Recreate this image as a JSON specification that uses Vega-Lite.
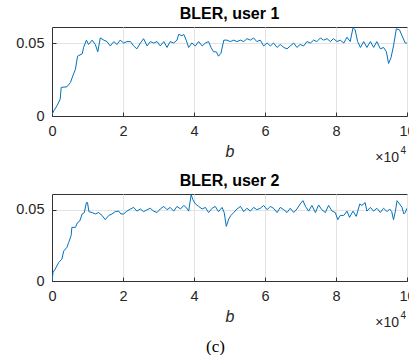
{
  "$schema": "https://vega.github.io/schema/vega-lite/v6.json",
  "background": "white",
  "padding": {"left": 15, "top": 5, "right": 0, "bottom": 0},
  "datasets": {
    "u1": [
      {"b":0,"bler":0.001},{"b":0.05,"bler":0.0035},{"b":0.14,"bler":0.007},{"b":0.23,"bler":0.0115},{"b":0.26,"bler":0.0196},{"b":0.42,"bler":0.02},{"b":0.52,"bler":0.023},{"b":0.61,"bler":0.029},{"b":0.66,"bler":0.032},{"b":0.72,"bler":0.041},{"b":0.85,"bler":0.0426},{"b":0.89,"bler":0.047},{"b":0.97,"bler":0.052},{"b":1.03,"bler":0.049},{"b":1.13,"bler":0.052},{"b":1.22,"bler":0.049},{"b":1.29,"bler":0.044},{"b":1.36,"bler":0.0535},{"b":1.46,"bler":0.052},{"b":1.55,"bler":0.051},{"b":1.64,"bler":0.048},{"b":1.74,"bler":0.051},{"b":1.83,"bler":0.049},{"b":1.92,"bler":0.052},{"b":2.02,"bler":0.05},{"b":2.11,"bler":0.051},{"b":2.21,"bler":0.051},{"b":2.3,"bler":0.048},{"b":2.39,"bler":0.046},{"b":2.49,"bler":0.05},{"b":2.58,"bler":0.053},{"b":2.68,"bler":0.048},{"b":2.77,"bler":0.051},{"b":2.86,"bler":0.05},{"b":2.96,"bler":0.051},{"b":3.05,"bler":0.048},{"b":3.15,"bler":0.051},{"b":3.24,"bler":0.047},{"b":3.33,"bler":0.051},{"b":3.43,"bler":0.05},{"b":3.52,"bler":0.052},{"b":3.57,"bler":0.056},{"b":3.66,"bler":0.055},{"b":3.71,"bler":0.056},{"b":3.78,"bler":0.052},{"b":3.85,"bler":0.047},{"b":3.94,"bler":0.05},{"b":4.04,"bler":0.048},{"b":4.13,"bler":0.051},{"b":4.23,"bler":0.048},{"b":4.32,"bler":0.05},{"b":4.41,"bler":0.051},{"b":4.48,"bler":0.047},{"b":4.55,"bler":0.044},{"b":4.63,"bler":0.044},{"b":4.69,"bler":0.041},{"b":4.76,"bler":0.043},{"b":4.84,"bler":0.052},{"b":4.93,"bler":0.052},{"b":5.02,"bler":0.051},{"b":5.12,"bler":0.052},{"b":5.21,"bler":0.051},{"b":5.31,"bler":0.052},{"b":5.4,"bler":0.051},{"b":5.49,"bler":0.053},{"b":5.59,"bler":0.052},{"b":5.68,"bler":0.0535},{"b":5.77,"bler":0.051},{"b":5.87,"bler":0.052},{"b":5.96,"bler":0.048},{"b":6.06,"bler":0.05},{"b":6.15,"bler":0.048},{"b":6.24,"bler":0.05},{"b":6.34,"bler":0.047},{"b":6.43,"bler":0.049},{"b":6.53,"bler":0.047},{"b":6.62,"bler":0.046},{"b":6.71,"bler":0.048},{"b":6.81,"bler":0.05},{"b":6.9,"bler":0.047},{"b":6.99,"bler":0.049},{"b":7.09,"bler":0.048},{"b":7.18,"bler":0.051},{"b":7.28,"bler":0.05},{"b":7.37,"bler":0.052},{"b":7.46,"bler":0.051},{"b":7.56,"bler":0.0535},{"b":7.65,"bler":0.052},{"b":7.75,"bler":0.053},{"b":7.84,"bler":0.051},{"b":7.93,"bler":0.053},{"b":8.03,"bler":0.051},{"b":8.12,"bler":0.052},{"b":8.22,"bler":0.05},{"b":8.31,"bler":0.054},{"b":8.4,"bler":0.051},{"b":8.48,"bler":0.0605},{"b":8.54,"bler":0.059},{"b":8.61,"bler":0.051},{"b":8.69,"bler":0.047},{"b":8.78,"bler":0.051},{"b":8.87,"bler":0.047},{"b":8.97,"bler":0.051},{"b":9.06,"bler":0.047},{"b":9.15,"bler":0.051},{"b":9.25,"bler":0.046},{"b":9.34,"bler":0.047},{"b":9.42,"bler":0.044},{"b":9.48,"bler":0.036},{"b":9.55,"bler":0.04},{"b":9.62,"bler":0.048},{"b":9.7,"bler":0.0598},{"b":9.79,"bler":0.059},{"b":9.86,"bler":0.055},{"b":9.95,"bler":0.05},{"b":10,"bler":0.05}
    ],
    "u2": [
      {"b":0,"bler":0.0002},{"b":0.03,"bler":0.006},{"b":0.09,"bler":0.0084},{"b":0.19,"bler":0.013},{"b":0.28,"bler":0.0154},{"b":0.33,"bler":0.021},{"b":0.42,"bler":0.0236},{"b":0.47,"bler":0.027},{"b":0.54,"bler":0.032},{"b":0.56,"bler":0.0376},{"b":0.66,"bler":0.0376},{"b":0.72,"bler":0.041},{"b":0.78,"bler":0.042},{"b":0.85,"bler":0.047},{"b":0.91,"bler":0.048},{"b":0.97,"bler":0.055},{"b":1.0,"bler":0.055},{"b":1.04,"bler":0.0486},{"b":1.13,"bler":0.048},{"b":1.22,"bler":0.047},{"b":1.31,"bler":0.048},{"b":1.41,"bler":0.046},{"b":1.5,"bler":0.043},{"b":1.6,"bler":0.046},{"b":1.69,"bler":0.047},{"b":1.78,"bler":0.0486},{"b":1.88,"bler":0.049},{"b":1.94,"bler":0.047},{"b":2.02,"bler":0.047},{"b":2.11,"bler":0.049},{"b":2.21,"bler":0.0505},{"b":2.3,"bler":0.0516},{"b":2.39,"bler":0.049},{"b":2.49,"bler":0.0505},{"b":2.58,"bler":0.0486},{"b":2.68,"bler":0.05},{"b":2.77,"bler":0.051},{"b":2.86,"bler":0.049},{"b":2.96,"bler":0.048},{"b":3.05,"bler":0.0505},{"b":3.15,"bler":0.0523},{"b":3.24,"bler":0.05},{"b":3.33,"bler":0.0516},{"b":3.43,"bler":0.049},{"b":3.52,"bler":0.0523},{"b":3.62,"bler":0.0505},{"b":3.71,"bler":0.053},{"b":3.8,"bler":0.051},{"b":3.85,"bler":0.049},{"b":3.92,"bler":0.0605},{"b":3.97,"bler":0.057},{"b":4.04,"bler":0.054},{"b":4.13,"bler":0.0523},{"b":4.23,"bler":0.0505},{"b":4.32,"bler":0.0516},{"b":4.41,"bler":0.048},{"b":4.51,"bler":0.051},{"b":4.6,"bler":0.0523},{"b":4.69,"bler":0.0486},{"b":4.79,"bler":0.0516},{"b":4.85,"bler":0.048},{"b":4.91,"bler":0.0383},{"b":4.98,"bler":0.0435},{"b":5.04,"bler":0.046},{"b":5.12,"bler":0.048},{"b":5.21,"bler":0.0505},{"b":5.31,"bler":0.0523},{"b":5.4,"bler":0.0486},{"b":5.49,"bler":0.051},{"b":5.59,"bler":0.049},{"b":5.68,"bler":0.0516},{"b":5.77,"bler":0.05},{"b":5.87,"bler":0.051},{"b":5.96,"bler":0.053},{"b":6.06,"bler":0.05},{"b":6.15,"bler":0.0523},{"b":6.24,"bler":0.051},{"b":6.34,"bler":0.048},{"b":6.43,"bler":0.0516},{"b":6.53,"bler":0.05},{"b":6.62,"bler":0.048},{"b":6.71,"bler":0.051},{"b":6.81,"bler":0.048},{"b":6.9,"bler":0.0505},{"b":6.99,"bler":0.054},{"b":7.07,"bler":0.0563},{"b":7.14,"bler":0.0523},{"b":7.23,"bler":0.049},{"b":7.32,"bler":0.053},{"b":7.42,"bler":0.048},{"b":7.51,"bler":0.0533},{"b":7.6,"bler":0.05},{"b":7.7,"bler":0.048},{"b":7.79,"bler":0.053},{"b":7.89,"bler":0.049},{"b":7.98,"bler":0.048},{"b":8.05,"bler":0.043},{"b":8.12,"bler":0.046},{"b":8.22,"bler":0.046},{"b":8.31,"bler":0.049},{"b":8.38,"bler":0.0446},{"b":8.48,"bler":0.049},{"b":8.57,"bler":0.0453},{"b":8.67,"bler":0.054},{"b":8.73,"bler":0.053},{"b":8.82,"bler":0.055},{"b":8.87,"bler":0.049},{"b":8.97,"bler":0.0516},{"b":9.06,"bler":0.049},{"b":9.15,"bler":0.051},{"b":9.25,"bler":0.048},{"b":9.34,"bler":0.051},{"b":9.44,"bler":0.0486},{"b":9.51,"bler":0.0505},{"b":9.57,"bler":0.0486},{"b":9.62,"bler":0.043},{"b":9.67,"bler":0.0486},{"b":9.72,"bler":0.0563},{"b":9.79,"bler":0.054},{"b":9.86,"bler":0.0516},{"b":9.91,"bler":0.047},{"b":9.95,"bler":0.048},{"b":10,"bler":0.051}
    ],
    "mult": [{"b":10,"bler":0,"t":"×10"}],
    "expo": [{"b":10,"bler":0,"t":"4"}]
  },
  "title": {"text": "(c)", "orient": "bottom", "anchor": "middle", "font": "Liberation Serif", "fontSize": 17, "fontWeight": "normal", "color": "black", "offset": 8},
  "spacing": 6,
  "vconcat": [
    {
      "width": 355, "height": 89,
      "title": {"text": "BLER, user 1"},
      "layer": [
        {
          "data": {"name": "u1"},
          "mark": {"type": "line", "color": "#0072BD", "strokeWidth": 1, "clip": true},
          "encoding": {
            "x": {"field": "b", "type": "quantitative", "scale": {"domain": [0, 10], "nice": false}, "axis": {"title": "b", "values": [0,2,4,6,8,10], "format": "d"}},
            "y": {"field": "bler", "type": "quantitative", "scale": {"domain": [0, 0.061], "nice": false}, "axis": {"title": null, "values": [0, 0.05], "format": "~g"}}
          }
        },
        {
          "data": {"name": "mult"},
          "mark": {"type": "text", "align": "right", "baseline": "middle", "dx": -8, "dy": 42, "fontSize": 14, "font": "Liberation Sans", "color": "#262626"},
          "encoding": {
            "x": {"field": "b", "type": "quantitative"},
            "y": {"field": "bler", "type": "quantitative"},
            "text": {"field": "t"}
          }
        },
        {
          "data": {"name": "expo"},
          "mark": {"type": "text", "align": "right", "baseline": "middle", "dx": -1, "dy": 35, "fontSize": 10, "font": "Liberation Sans", "color": "#262626"},
          "encoding": {
            "x": {"field": "b", "type": "quantitative"},
            "y": {"field": "bler", "type": "quantitative"},
            "text": {"field": "t"}
          }
        }
      ]
    },
    {
      "width": 355, "height": 87,
      "title": {"text": "BLER, user 2"},
      "layer": [
        {
          "data": {"name": "u2"},
          "mark": {"type": "line", "color": "#0072BD", "strokeWidth": 1, "clip": true},
          "encoding": {
            "x": {"field": "b", "type": "quantitative", "scale": {"domain": [0, 10], "nice": false}, "axis": {"title": "b", "values": [0,2,4,6,8,10], "format": "d"}},
            "y": {"field": "bler", "type": "quantitative", "scale": {"domain": [0, 0.061], "nice": false}, "axis": {"title": null, "values": [0, 0.05], "format": "~g"}}
          }
        },
        {
          "data": {"name": "mult"},
          "mark": {"type": "text", "align": "right", "baseline": "middle", "dx": -8, "dy": 42, "fontSize": 14, "font": "Liberation Sans", "color": "#262626"},
          "encoding": {
            "x": {"field": "b", "type": "quantitative"},
            "y": {"field": "bler", "type": "quantitative"},
            "text": {"field": "t"}
          }
        },
        {
          "data": {"name": "expo"},
          "mark": {"type": "text", "align": "right", "baseline": "middle", "dx": -1, "dy": 35, "fontSize": 10, "font": "Liberation Sans", "color": "#262626"},
          "encoding": {
            "x": {"field": "b", "type": "quantitative"},
            "y": {"field": "bler", "type": "quantitative"},
            "text": {"field": "t"}
          }
        }
      ]
    }
  ],
  "config": {
    "font": "Liberation Sans",
    "view": {"stroke": "#333333", "strokeWidth": 1},
    "title": {"font": "Liberation Sans", "fontSize": 16, "fontWeight": "bold", "color": "black", "offset": 5, "anchor": "middle"},
    "axis": {
      "domainColor": "#333333",
      "gridColor": "#e3e3e3",
      "gridOpacity": 1,
      "tickColor": "#333333",
      "tickSize": -4,
      "labelPadding": 12,
      "labelFont": "Liberation Sans",
      "labelFontSize": 14.5,
      "labelColor": "#262626",
      "titleFont": "Liberation Sans",
      "titleFontSize": 16,
      "titleFontWeight": "normal",
      "titleFontStyle": "italic",
      "titleColor": "#262626",
      "titlePadding": 6,
      "labelFlush": false
    }
  }
}
